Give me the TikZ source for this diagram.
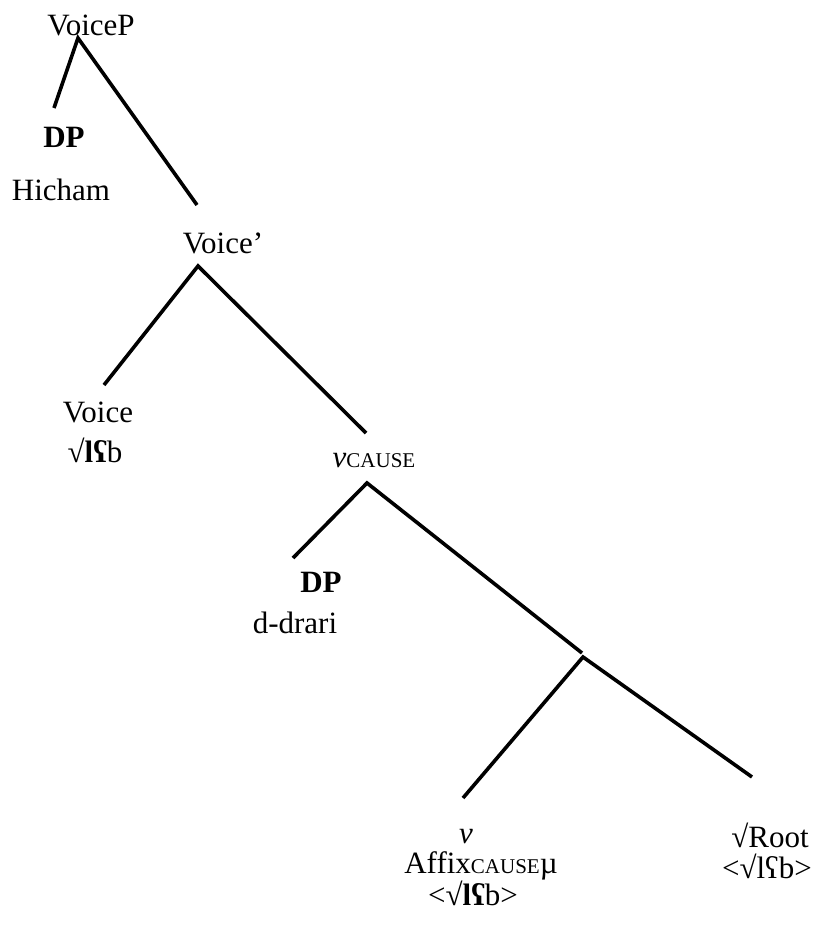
\documentclass[tikz,border=0pt]{standalone}
\usepackage{fontspec}
\setmainfont{Liberation Serif}
\newcommand{\smcap}[1]{{\fontsize{21}{24}\selectfont #1}}
\begin{document}
\begin{tikzpicture}[x=1pt,y=-1pt,
  lbl/.style={anchor=base,inner sep=0pt,font=\fontsize{31}{37}\selectfont},
  branch/.style={line width=3.6pt,line join=miter,line cap=butt}]
\useasboundingbox (0,0) rectangle (815,926);
% labels
\node[lbl] (voicep) at (91,35) {VoiceP};
\node[lbl] (dp1) at (64,147) {\textbf{DP}};
\node[lbl] (hicham) at (61,200) {Hicham};
\node[lbl] (voicebar) at (223,253) {Voice’};
\node[lbl] (voice) at (98,422) {Voice};
\node[lbl] (voiceroot) at (95,462) {√\textbf{lʕ}b};
\node[lbl] (vcause) at (374,467) {\textit{v}\smcap{CAUSE}};
\node[lbl] (dp2) at (321,592) {\textbf{DP}};
\node[lbl] (ddrari) at (295,633) {d-drari};
\node[lbl] (v) at (466,843) {\textit{v}};
\node[lbl] (affix) at (481,873) {Affix\smcap{CAUSE}µ};
\node[lbl] (affixroot) at (473,905) {<√\textbf{lʕ}b>};
\node[lbl] (root) at (770,847) {√Root};
\node[lbl] (rootroot) at (767,878) {<√lʕb>};
% branch points
\coordinate (a1) at (78,38);
\coordinate (dp1top) at (54,108);
\coordinate (vbartop) at (197,205);
\coordinate (a2) at (198,266);
\coordinate (voicetop) at (104,385);
\coordinate (vcausetop) at (366,433);
\coordinate (a3) at (367,483);
\coordinate (dp2top) at (293,558);
\coordinate (x1) at (582,653);
\coordinate (a4) at (583,657);
\coordinate (vtop) at (463,798);
\coordinate (roottop) at (752,777);
% connectors
\draw[branch] (dp1top) -- (a1) -- (vbartop);
\draw[branch] (voicetop) -- (a2) -- (vcausetop);
\draw[branch] (dp2top) -- (a3) -- (x1);
\draw[branch] (vtop) -- (a4) -- (roottop);
\end{tikzpicture}
\end{document}
